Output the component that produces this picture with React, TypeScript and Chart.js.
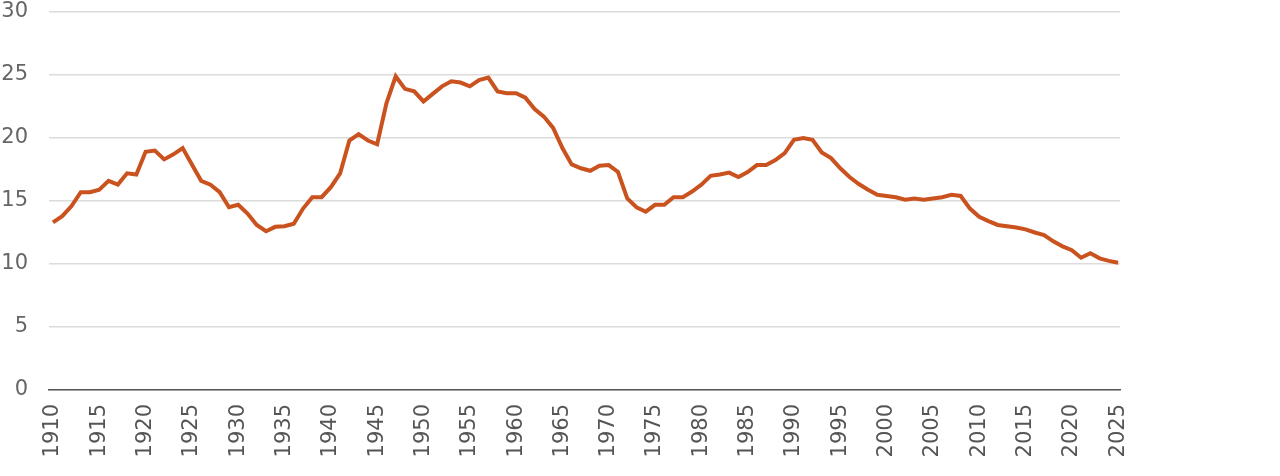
import React, { useEffect, useRef } from "react";
import { Chart, registerables } from "chart.js";

Chart.register(...registerables);

const years: number[] = [
  1910, 1911, 1912, 1913, 1914, 1915, 1916, 1917, 1918, 1919,
  1920, 1921, 1922, 1923, 1924, 1925, 1926, 1927, 1928, 1929,
  1930, 1931, 1932, 1933, 1934, 1935, 1936, 1937, 1938, 1939,
  1940, 1941, 1942, 1943, 1944, 1945, 1946, 1947, 1948, 1949,
  1950, 1951, 1952, 1953, 1954, 1955, 1956, 1957, 1958, 1959,
  1960, 1961, 1962, 1963, 1964, 1965, 1966, 1967, 1968, 1969,
  1970, 1971, 1972, 1973, 1974, 1975, 1976, 1977, 1978, 1979,
  1980, 1981, 1982, 1983, 1984, 1985, 1986, 1987, 1988, 1989,
  1990, 1991, 1992, 1993, 1994, 1995, 1996, 1997, 1998, 1999,
  2000, 2001, 2002, 2003, 2004, 2005, 2006, 2007, 2008, 2009,
  2010, 2011, 2012, 2013, 2014, 2015, 2016, 2017, 2018, 2019,
  2020, 2021, 2022, 2023, 2024, 2025,
];

const values: number[] = [
  13.3, 13.8, 14.6, 15.7, 15.7, 15.9, 16.6, 16.3, 17.2, 17.1,
  18.9, 19.0, 18.3, 18.7, 19.2, 17.9, 16.6, 16.3, 15.7, 14.5,
  14.7, 14.0, 13.1, 12.6, 12.95, 13.0, 13.2, 14.4, 15.3, 15.3,
  16.1, 17.2, 19.8, 20.3, 19.8, 19.5, 22.75, 24.9, 23.9, 23.7,
  22.9, 23.5, 24.1, 24.5, 24.4, 24.1, 24.6, 24.8, 23.7, 23.55,
  23.55, 23.2, 22.3, 21.7, 20.8, 19.2, 17.9, 17.6, 17.4, 17.8,
  17.85, 17.3, 15.2, 14.5, 14.15, 14.7, 14.7, 15.3, 15.3, 15.75,
  16.3, 17.0, 17.1, 17.25, 16.9, 17.3, 17.85, 17.85, 18.25, 18.8,
  19.85, 20.0, 19.85, 18.85, 18.4, 17.6, 16.9, 16.35, 15.9, 15.5,
  15.4, 15.3, 15.1, 15.2, 15.1, 15.2, 15.3, 15.5, 15.4, 14.4,
  13.75, 13.4, 13.1, 13.0, 12.9, 12.75, 12.5, 12.3, 11.8, 11.4,
  11.1, 10.5, 10.85, 10.45, 10.25, 10.1,
];

const xTickYears: number[] = [
  1910, 1915, 1920, 1925, 1930, 1935, 1940, 1945, 1950, 1955, 1960, 1965,
  1970, 1975, 1980, 1985, 1990, 1995, 2000, 2005, 2010, 2015, 2020, 2025,
];

const yTicks: number[] = [0, 5, 10, 15, 20, 25, 30];

const FONT = "'DejaVu Sans', sans-serif";

export default function App() {
  const ref = useRef<HTMLCanvasElement | null>(null);

  useEffect(() => {
    if (!ref.current) return;
    const chart = new Chart(ref.current, {
      type: "line",
      data: {
        datasets: [
          {
            data: years.map((y, i) => ({ x: y, y: values[i] })),
            borderColor: "#C9521E",
            borderWidth: 4,
            pointRadius: 0,
            tension: 0,
            fill: false,
          },
        ],
      },
      options: {
        animation: false,
        responsive: false,
        maintainAspectRatio: false,
        layout: { padding: { top: 12, right: 160, left: 0, bottom: 0 } },
        plugins: { legend: { display: false }, tooltip: { enabled: false } },
        scales: {
          x: {
            type: "linear",
            min: 1909.57,
            max: 2025.2,
            afterBuildTicks: (s: any) => {
              s.ticks = xTickYears.map((v) => ({ value: v }));
            },
            afterFit: (s: any) => {
              s.height = 86;
              s.paddingTop = 0;
              s.paddingBottom = 0;
            },
            grid: { display: false, drawTicks: false },
            border: { display: true, color: "#555", width: 1.5 },
            ticks: {
              autoSkip: false,
              minRotation: 90,
              maxRotation: 90,
              padding: 14,
              color: "#555",
              font: { family: FONT, size: 21 },
              callback: (v: any) => String(v),
            },
          },
          y: {
            min: 0,
            max: 30,
            afterBuildTicks: (s: any) => {
              s.ticks = yTicks.map((v) => ({ value: v }));
            },
            afterFit: (s: any) => {
              s.width = 49;
              s.paddingTop = 0;
              s.paddingBottom = 0;
            },
            grid: { color: "#dcdcdc", lineWidth: 1.5, drawTicks: false },
            border: { display: false },
            ticks: {
              padding: 21,
              color: "#666",
              font: { family: FONT, size: 21 },
            },
          },
        },
      },
    } as any);
    return () => chart.destroy();
  }, []);

  return (
    <div style={{ position: "fixed", left: 0, top: 0, width: 1280, height: 476, background: "#fff" }}>
      <canvas ref={ref} width={1280} height={476} style={{ width: 1280, height: 476 }} />
    </div>
  );
}
